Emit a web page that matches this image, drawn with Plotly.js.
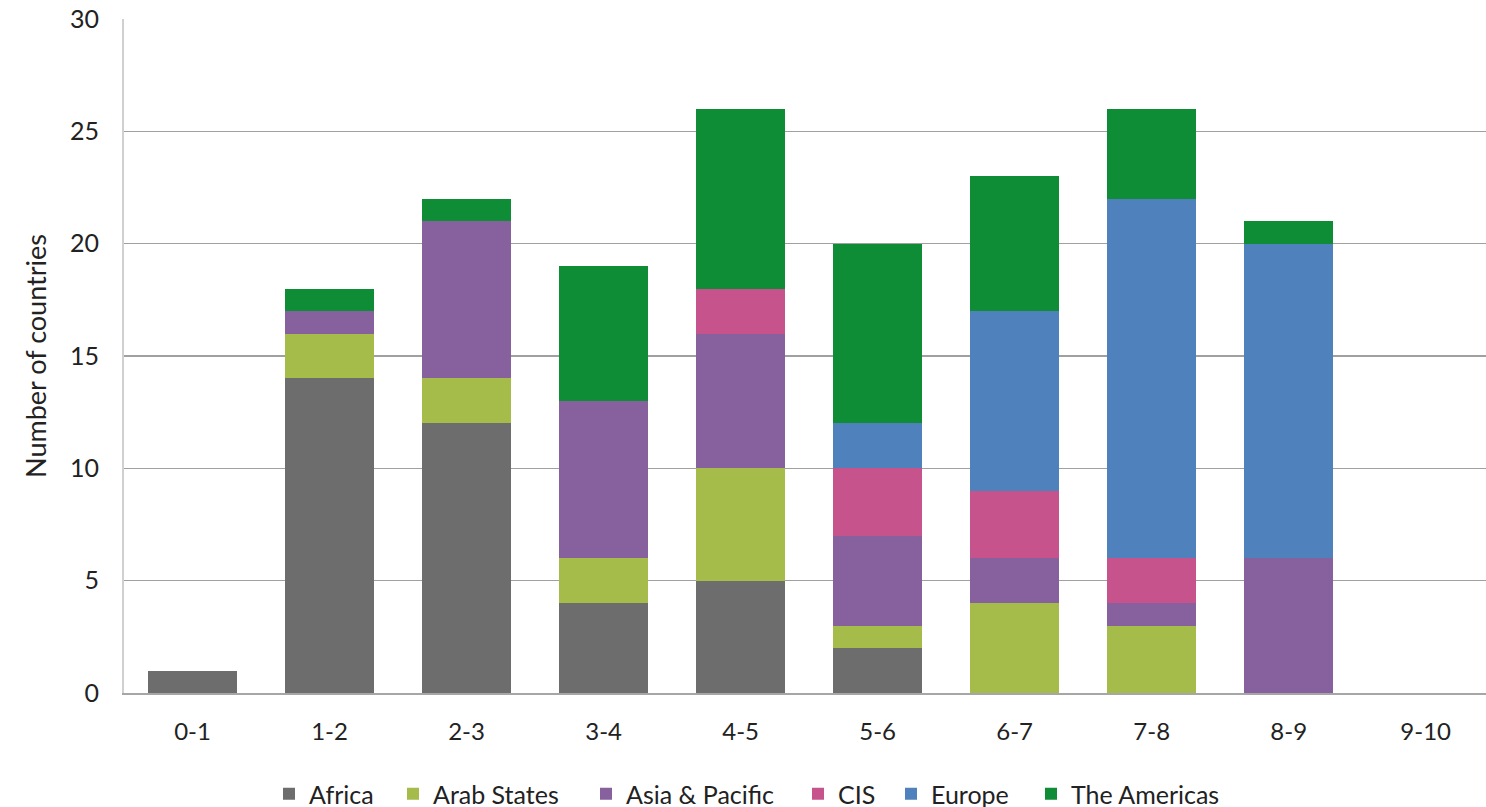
<!DOCTYPE html>
<html>
<head>
<meta charset="utf-8">
<script src="https://cdn.plot.ly/plotly-3.0.1.min.js"></script>
<style>html,body{margin:0;padding:0;background:#fff;}#chart{width:1486px;height:807px;}</style>
</head>
<body>
<div id="chart"></div>
<script>
const categories = ["0-1","1-2","2-3","3-4","4-5","5-6","6-7","7-8","8-9","9-10"];
const africa    = [1,14,12,4,5,2,0,0,0,0];
const arabStates= [0,2,2,2,5,1,4,3,0,0];
const asiaPacific=[0,1,7,7,6,4,2,1,6,0];
const cis       = [0,0,0,0,2,3,3,2,0,0];
const europe    = [0,0,0,0,0,2,8,16,14,0];
const americas  = [0,1,1,6,8,8,6,4,1,0];
const seriesNames = ["Africa","Arab States","Asia & Pacific","CIS","Europe","The Americas"];
const seriesData = [africa, arabStates, asiaPacific, cis, europe, americas];
const seriesColors = ["#6d6d6d","#a5bb4a","#87609e","#c6538c","#4f81bd","#0e8c36"];
const legendWidths = [79,148,167,48,95,165];

const traces = seriesNames.map((n,i)=>({
  type:'bar', name:n, x:categories, y:seriesData[i],
  marker:{color:seriesColors[i], line:{width:0}},
  legendwidth:legendWidths[i],
  hoverinfo:'x+y+name'
}));

const fontFam = 'Lato, "Open Sans", sans-serif';
const fs = 24;
const layout = {
  barmode:'stack',
  bargap:0.35,
  width:1486, height:807,
  margin:{l:124, r:0, t:19, b:114},
  paper_bgcolor:'#fff', plot_bgcolor:'#fff',
  font:{family:fontFam, size:fs, color:'#222'},
  xaxis:{
    type:'category',
    range:[-0.5, 9.44],
    showgrid:false,
    showline:true, linecolor:'#a6a6a6', linewidth:2,
    ticks:'', tickfont:{size:fs, color:'#222'},
    ticklabelstandoff:16,
    fixedrange:true
  },
  yaxis:{
    range:[0,30], dtick:5,
    showgrid:true, gridcolor:'#a0a0a0', gridwidth:1.5,
    zeroline:false,
    showline:true, linecolor:'#d0d0d0', linewidth:2,
    ticks:'', tickfont:{size:25, color:'#222'},
    ticklabelstandoff:18,
    title:{text:'Number of countries', font:{size:27, color:'#222'}, standoff:16},
    fixedrange:true
  },
  showlegend:true,
  legend:{
    orientation:'h', xref:'container', yref:'container',
    x:269/1486, xanchor:'left', y:1-794/807, yanchor:'middle',
    font:{size:25, color:'#222'}, itemwidth:30, traceorder:'normal'
  }
};
Plotly.newPlot('chart', traces, layout, {displayModeBar:false, staticPlot:true});
</script>
</body>
</html>
